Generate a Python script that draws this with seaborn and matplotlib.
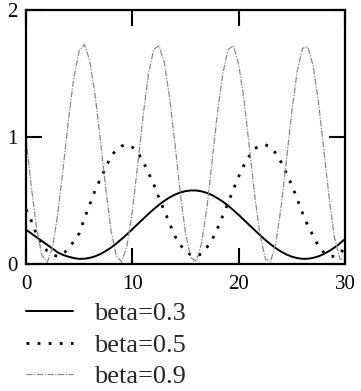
import matplotlib
matplotlib.use("Agg")
import matplotlib.pyplot as plt
import numpy as np
import pandas as pd
import seaborn as sns

# x grid (step 0.5) and curve values
x = np.linspace(0, 30, 61)

beta_03 = [0.27, 0.24, 0.21, 0.18, 0.15, 0.12, 0.09, 0.07, 0.057, 0.046,
           0.04, 0.041, 0.048, 0.06, 0.078, 0.102, 0.129, 0.161, 0.197, 0.234,
           0.274, 0.314, 0.354, 0.393, 0.431, 0.466, 0.497, 0.524, 0.546, 0.563,
           0.574, 0.579, 0.579, 0.572, 0.56, 0.542, 0.518, 0.491, 0.459, 0.423,
           0.386, 0.346, 0.306, 0.266, 0.227, 0.189, 0.154, 0.123, 0.096, 0.074,
           0.057, 0.046, 0.04, 0.041, 0.048, 0.06, 0.078, 0.102, 0.129, 0.161,
           0.197]

beta_05 = [0.43, 0.34, 0.23, 0.16, 0.10, 0.07, 0.06, 0.08, 0.12, 0.18,
           0.24, 0.36, 0.47, 0.58, 0.67, 0.76, 0.85, 0.90, 0.93, 0.94,
           0.92, 0.88, 0.81, 0.72, 0.63, 0.52, 0.42, 0.32, 0.22, 0.15,
           0.10, 0.07, 0.06, 0.08, 0.13, 0.19, 0.28, 0.38, 0.48, 0.59,
           0.69, 0.78, 0.85, 0.91, 0.93, 0.94, 0.92, 0.87, 0.80, 0.71,
           0.62, 0.51, 0.40, 0.30, 0.22, 0.14, 0.09, 0.06, 0.06, 0.08,
           0.13]

beta_09 = [0.99, 0.61, 0.28, 0.065, 0.013, 0.133, 0.40, 0.76, 1.14, 1.47,
           1.68, 1.73, 1.60, 1.33, 0.97, 0.59, 0.26, 0.06, 0.016, 0.145,
           0.42, 0.78, 1.16, 1.49, 1.69, 1.72, 1.59, 1.31, 0.95, 0.56,
           0.24, 0.05, 0.019, 0.16, 0.44, 0.81, 1.19, 1.50, 1.69, 1.72,
           1.57, 1.29, 0.92, 0.54, 0.23, 0.04, 0.02, 0.17, 0.46, 0.83,
           1.21, 1.52, 1.70, 1.71, 1.56, 1.27, 0.90, 0.52, 0.21, 0.04,
           0.03]

labels = ["beta=0.3", "beta=0.5", "beta=0.9"]
x_ticks = [0, 10, 20, 30]
y_ticks = [0, 1, 2]

sns.set_style("ticks")
plt.rcParams["font.family"] = ["Liberation Serif", "DejaVu Serif"]

fig = plt.figure(figsize=(3.61, 3.91), dpi=100)
ax = fig.add_axes([0.072, 0.325, 0.884, 0.649])

sns.lineplot(x=x, y=beta_03, ax=ax, color="black", linewidth=1.4,
             linestyle="-", label=labels[0])
sns.lineplot(x=x, y=beta_05, ax=ax, color="black", linewidth=2.0,
             linestyle=(0, (1, 3.0)), label=labels[1])
sns.lineplot(x=x, y=beta_09, ax=ax, color="#8a8a8a", linewidth=0.9,
             linestyle=(0, (5, 1.2, 1, 1.2)), label=labels[2])

ax.set_xlim(0, 30)
ax.set_ylim(0, 2)
ax.set_xticks(x_ticks)
ax.set_yticks(y_ticks)
ax.tick_params(direction="in", length=11.5, width=1.5, top=True, right=True,
               labelsize=15, colors="black")
ax.tick_params(axis="y", pad=6)
ax.tick_params(axis="x", pad=8)
for s in ax.spines.values():
    s.set_linewidth(1.6)
    s.set_color("black")

ax.legend(loc="upper left", bbox_to_anchor=(0.0, -0.15), frameon=False,
          fontsize=19, handlelength=1.8, handletextpad=0.76, labelspacing=0.3,
          borderaxespad=0, borderpad=0)

fig.savefig("out.png", dpi=100)
